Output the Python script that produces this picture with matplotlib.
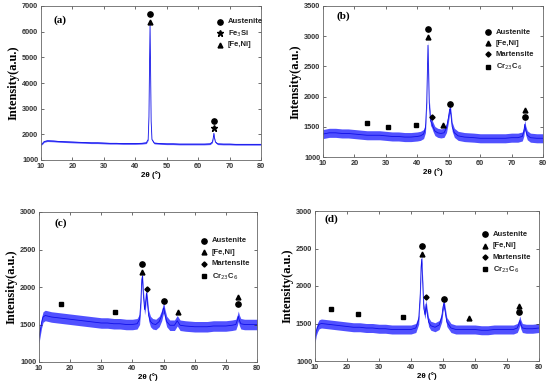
import matplotlib
matplotlib.use('Agg')
import matplotlib.pyplot as plt

# ---- data (2theta in deg, intensity in a.u.) ----
tt_a = [10, 10.5, 11, 12, 14, 16, 18, 20, 22, 24, 26, 28, 30, 32, 34, 36, 38, 40, 42,
        43.5, 44.1, 44.35, 44.55, 44.7, 44.85, 45.05, 45.3, 46, 48, 50, 52, 54, 56, 58,
        60, 62, 63.8, 64.5, 64.8, 65.0, 65.2, 65.5, 66.2, 68, 70, 72, 74, 76, 78, 80]
int_a = [1600, 1650, 1720, 1750, 1740, 1720, 1710, 1700, 1690, 1680, 1670, 1670, 1660,
         1650, 1650, 1640, 1640, 1640, 1650, 1670, 1800, 2700, 4900, 6260, 4700, 2500,
         1800, 1660, 1640, 1630, 1630, 1620, 1620, 1620, 1620, 1620, 1630, 1700, 1850,
         2040, 1850, 1700, 1630, 1620, 1620, 1610, 1610, 1610, 1610, 1610]

tt_b = [10, 12, 14, 16, 18, 20, 22, 24, 26, 28, 30, 32, 34, 36, 38, 40, 41, 42, 42.6,
        43.0, 43.25, 43.4, 43.55, 43.8, 44.2, 44.6, 45.0, 45.6, 46.5, 47.5, 48.5, 49.3,
        49.9, 50.3, 50.5, 50.7, 51.1, 51.8, 53, 55, 58, 60, 62, 64, 66, 68, 70, 72, 73.4,
        73.9, 74.2, 74.5, 75, 76, 78, 80]
int_b = [1380, 1400, 1400, 1390, 1390, 1380, 1370, 1360, 1360, 1360, 1350, 1340, 1340,
         1330, 1330, 1340, 1350, 1380, 1480, 1900, 2500, 2850, 2500, 1900, 1600, 1560,
         1500, 1430, 1400, 1390, 1400, 1480, 1650, 1790, 1800, 1700, 1500, 1400, 1350,
         1330, 1320, 1310, 1310, 1310, 1310, 1310, 1320, 1320, 1340, 1420, 1540, 1440,
         1360, 1320, 1310, 1310]

tt_c = [10, 10.4, 10.8, 11.3, 12, 13, 14, 16, 18, 20, 22, 24, 26, 28, 30, 32, 34, 36,
        38, 40, 41.5, 42.3, 42.7, 43.0, 43.2, 43.5, 43.9, 44.2, 44.5, 44.8, 45.2, 45.8,
        46.5, 47.5, 48.6, 49.4, 49.9, 50.1, 50.4, 51.0, 52, 53.5, 54.4, 55.3, 57, 60,
        62, 64, 66, 68, 70, 72, 73.2, 73.7, 74.0, 74.3, 74.8, 76, 78, 80]
int_c = [1320, 1420, 1520, 1600, 1620, 1610, 1600, 1590, 1580, 1570, 1560, 1550, 1540,
         1530, 1520, 1520, 1510, 1510, 1500, 1500, 1510, 1570, 1800, 2100, 2140, 1900,
         1700, 1780, 1920, 1800, 1620, 1540, 1510, 1500, 1540, 1620, 1710, 1720, 1640,
         1540, 1490, 1490, 1550, 1490, 1480, 1470, 1470, 1470, 1480, 1480, 1480, 1490,
         1500, 1560, 1610, 1560, 1510, 1500, 1500, 1500]

tt_d = [10, 10.4, 10.8, 11.3, 12, 14, 16, 18, 20, 22, 24, 26, 28, 30, 32, 34, 36, 38,
        40, 41.5, 42.4, 42.9, 43.15, 43.35, 43.6, 44.0, 44.4, 44.7, 45.0, 45.5, 46.2,
        47.5, 48.8, 49.6, 50.0, 50.3, 50.6, 51.2, 52.5, 54, 56, 58, 60, 62, 64, 66, 68,
        70, 72, 73.2, 73.7, 74.0, 74.3, 74.8, 76, 78, 80]
int_d = [1300, 1400, 1450, 1490, 1500, 1490, 1480, 1470, 1460, 1450, 1450, 1440, 1440,
         1430, 1430, 1420, 1420, 1420, 1420, 1440, 1550, 1900, 2250, 2360, 2100, 1700,
         1620, 1760, 1650, 1520, 1470, 1450, 1480, 1580, 1720, 1770, 1680, 1520, 1440,
         1420, 1420, 1420, 1420, 1410, 1410, 1420, 1420, 1420, 1420, 1440, 1490, 1540,
         1490, 1440, 1430, 1430, 1440]

# half-width of the visible noise band in each pattern
noise = {'a': 30, 'b': 75, 'c': 70, 'd': 60}

# phase markers above the peaks: (2theta list, intensity list)
aus_a = ([44.7, 65.0], [6676, 2505])
fesi_a = ([65.0], [2260])
feni_a = ([44.7], [6380])

aus_b = ([43.3, 50.5, 74.2], [3118, 1880, 1664])
feni_b = ([43.3, 48.2, 74.2], [2991, 1525, 1774])
mart_b = ([44.6], [1664])
carb_b = ([24.0, 30.8, 39.5], [1559, 1498, 1531])

aus_c = ([43.2, 50.1, 74.0], [2302, 1809, 1773])
feni_c = ([43.2, 54.5, 74.0], [2200, 1667, 1862])
mart_c = ([44.6], [1978])
carb_c = ([17.0, 34.5], [1778, 1662])

aus_d = ([43.4, 50.3, 73.8], [2533, 1831, 1658])
feni_d = ([43.4, 58.0, 73.8], [2427, 1569, 1733])
mart_d = ([44.8], [1858])
carb_d = ([15.0, 23.3, 37.5], [1689, 1627, 1582])

BLUE = '#2626ff'
SANS = 'Liberation Sans'
SERIF = 'Liberation Serif'

# marker styles for each phase
STYLE = {
    'Austenite': dict(marker='o', ms=3.8),
    'Fe3Si': dict(marker='*', ms=4.5),
    'FeNi': dict(marker='^', ms=3.5),
    'Martensite': dict(marker='D', ms=2.6),
    'Cr23C6': dict(marker='s', ms=3.5),
}
LABELS = {
    'Austenite': 'Austenite',
    'Fe3Si': 'Fe$_3$Si',
    'FeNi': '[Fe,Ni]',
    'Martensite': 'Martensite',
    'Cr23C6': 'Cr$_{23}$C$_6$',
}


def draw_panel(ax, tt, inten, band, ylim, ystep, tag, tag_pos, marks, legend_x, legend_y):
    lo = [v - band for v in inten]
    hi = [v + band for v in inten]
    ax.fill_between(tt, lo, hi, color=BLUE, alpha=0.8, linewidth=0)
    ax.plot(tt, inten, color='#1010e8', linewidth=0.6)

    for phase, (xs, ys) in marks:
        ax.plot(xs, ys, linestyle='none', color='black', **STYLE[phase])

    # legend drawn by hand so it sits where the figure has it
    order = []
    for phase, _ in marks:
        if phase not in order:
            order.append(phase)
    for i, phase in enumerate(order):
        y = legend_y[i]
        ax.plot([legend_x], [y], transform=ax.transAxes, linestyle='none',
                color='black', **STYLE[phase])
        ax.text(legend_x + 0.035, y, LABELS[phase], transform=ax.transAxes,
                fontsize=5.5, fontweight='bold', family=SANS, va='center', ha='left',
                color='#222222')

    ax.text(tag_pos[0], tag_pos[1], tag, transform=ax.transAxes, fontsize=8,
            fontweight='bold', family=SERIF, va='center', ha='left')

    ax.set_xlim(10, 80)
    ax.set_ylim(*ylim)
    ax.set_xticks(range(10, 81, 10))
    ax.set_yticks(range(ylim[0], ylim[1] + 1, ystep))
    ax.tick_params(direction='in', length=2, width=0.5, top=True, right=True,
                   labelsize=5.3, pad=2, colors='#333333')
    for lab in ax.get_xticklabels() + ax.get_yticklabels():
        lab.set_fontweight('bold')
        lab.set_family(SANS)
    for s in ax.spines.values():
        s.set_linewidth(0.6)
        s.set_color('#666666')
    ax.set_xlabel('2θ (°)', fontsize=5.8, fontweight='bold', family=SANS, labelpad=1)
    ax.set_ylabel('Intensity(a.u.)', fontsize=9, fontweight='bold', family=SERIF,
                  labelpad=2)


fig = plt.figure(figsize=(5.5, 3.86), dpi=100)
fig.patch.set_facecolor('white')
W, H = 550.0, 386.0


def add_axes(left, top, right, bottom):
    return fig.add_axes([left / W, 1 - bottom / H, (right - left) / W, (bottom - top) / H])


ax_a = add_axes(41, 6, 261, 160)
ax_b = add_axes(323, 6, 543, 157)
ax_c = add_axes(39, 212, 257, 362)
ax_d = add_axes(315, 211, 539, 361)

draw_panel(ax_a, tt_a, int_a, noise['a'], (1000, 7000), 1000, '(a)', (0.058, 0.909),
           [('Austenite', aus_a), ('Fe3Si', fesi_a), ('FeNi', feni_a)],
           0.814, [0.898, 0.823, 0.747])
draw_panel(ax_b, tt_b, int_b, noise['b'], (1000, 3500), 500, '(b)', (0.063, 0.93),
           [('Austenite', aus_b), ('FeNi', feni_b), ('Martensite', mart_b),
            ('Cr23C6', carb_b)],
           0.751, [0.825, 0.752, 0.679, 0.597])
draw_panel(ax_c, tt_c, int_c, noise['c'], (1000, 3000), 500, '(c)', (0.073, 0.927),
           [('Austenite', aus_c), ('FeNi', feni_c), ('Martensite', mart_c),
            ('Cr23C6', carb_c)],
           0.758, [0.809, 0.731, 0.656, 0.571])
draw_panel(ax_d, tt_d, int_d, noise['d'], (1000, 3000), 500, '(d)', (0.042, 0.947),
           [('Austenite', aus_d), ('FeNi', feni_d), ('Martensite', mart_d),
            ('Cr23C6', carb_d)],
           0.758, [0.844, 0.767, 0.691, 0.611])

fig.savefig('out.png', dpi=100, facecolor='white')
